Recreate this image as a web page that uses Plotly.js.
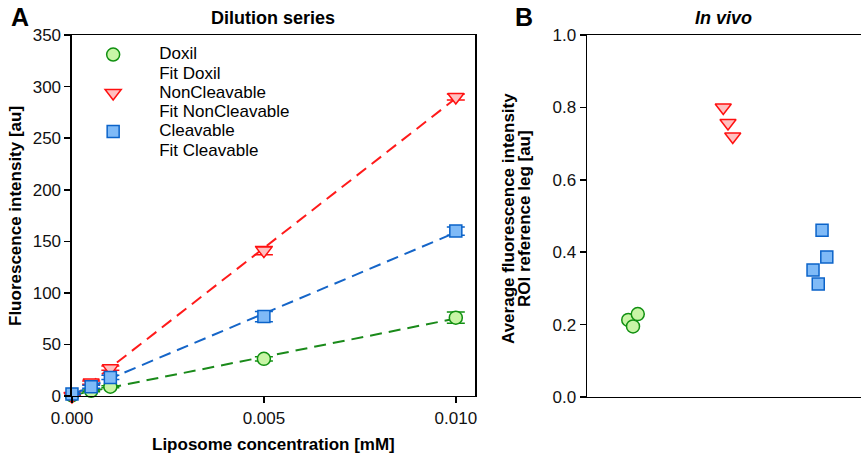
<!DOCTYPE html>
<html>
<head>
<meta charset="utf-8">
<script src="https://cdn.plot.ly/plotly-3.0.1.min.js"></script>
<style>html,body{margin:0;padding:0;background:#fff;}#chart{width:861px;height:456px;}</style>
</head>
<body>
<div id="chart"></div>
<script>
// ---- Panel A: dilution series ----
const concentration = [0, 0.0005, 0.001, 0.005, 0.01];
const doxilValues = [0.5, 5, 9, 36, 76];
const doxilErrors = [0.5, 0.8, 1, 2, 5.5];
const nonCleavableValues = [0, 13, 27, 141, 290];
const nonCleavableErrors = [0.5, 1.5, 2, 4, 3];
const cleavableValues = [2, 9, 18, 77, 160];
const cleavableErrors = [0.5, 1.5, 2, 5, 4];
const xTickValues = [0, 0.005, 0.01];
const yTickValuesA = [0, 50, 100, 150, 200, 250, 300, 350];

// ---- Panel B: in vivo ----
const groupPositions = [1, 2, 3];
const doxilVivoX = [0.95, 1.0, 1.05];
const doxilVivoY = [0.213, 0.195, 0.229];
const nonCleavableVivoX = [1.95, 2.0, 2.05];
const nonCleavableVivoY = [0.80, 0.757, 0.72];
const cleavableVivoX = [2.99, 3.04, 2.895, 2.95];
const cleavableVivoY = [0.461, 0.387, 0.351, 0.312];
const yTickValuesB = [0, 0.2, 0.4, 0.6, 0.8, 1.0];

function linFit(x, y) {
  const n = x.length;
  const mx = x.reduce((a, b) => a + b, 0) / n;
  const my = y.reduce((a, b) => a + b, 0) / n;
  let sxy = 0, sxx = 0;
  for (let i = 0; i < n; i++) { sxy += (x[i] - mx) * (y[i] - my); sxx += (x[i] - mx) ** 2; }
  const slope = sxy / sxx;
  const icpt = my - slope * mx;
  const xs = [Math.min(...x), Math.max(...x)];
  return { x: xs, y: xs.map(v => icpt + slope * v) };
}

const FONT = 'Liberation Sans, Arial, sans-serif';
const green = { edge: '#119011', fill: '#c8f5a6', line: '#1a8a1a' };
const red = { edge: '#ff1010', fill: '#ffc0c0', line: '#ff1a1a' };
const blue = { edge: '#0b63c9', fill: '#7fbaf7', line: '#1565c8' };
const big = s => '<span style="font-size:17px">' + s + '</span>';

function dataTrace(name, y, err, c, symbol, size) {
  return {
    type: 'scatter', mode: 'markers', name: big(name), x: concentration, y: y,
    xaxis: 'x', yaxis: 'y',
    marker: { symbol: symbol, size: size, color: c.fill, line: { color: c.edge, width: 1.5 } },
    error_y: { type: 'data', array: err, visible: true, color: c.edge, thickness: 1.5, width: 9 },
    cliponaxis: false
  };
}
function fitTrace(y, c) {
  const f = linFit(concentration, y);
  return {
    type: 'scatter', mode: 'lines', x: f.x, y: f.y, xaxis: 'x', yaxis: 'y',
    line: { color: c.line, width: 2, dash: '12px,7px' }, showlegend: false, hoverinfo: 'skip'
  };
}
// legend entry for a fit (the reference legend shows these names without a symbol)
function fitLegend(name, y) {
  const f = linFit(concentration, y);
  return { type: 'scatter', mode: 'lines', name: big(name), x: f.x, y: f.y, xaxis: 'x', yaxis: 'y',
    line: { width: 0, color: 'rgba(0,0,0,0)' }, showlegend: true, hoverinfo: 'skip' };
}
function vivoTrace(x, y, c, symbol, size) {
  return {
    type: 'scatter', mode: 'markers', x: x, y: y, xaxis: 'x2', yaxis: 'y2', showlegend: false,
    marker: { symbol: symbol, size: size, color: c.fill, line: { color: c.edge, width: 1.5 } },
    cliponaxis: false
  };
}

const traces = [
  fitTrace(doxilValues, green),
  dataTrace('Doxil', doxilValues, doxilErrors, green, 'circle', 13),
  fitLegend('Fit Doxil', doxilValues),
  fitTrace(nonCleavableValues, red),
  dataTrace('NonCleavable', nonCleavableValues, nonCleavableErrors, red, 'triangle-down', 14),
  fitLegend('Fit NonCleavable', nonCleavableValues),
  fitTrace(cleavableValues, blue),
  dataTrace('Cleavable', cleavableValues, cleavableErrors, blue, 'square', 12),
  fitLegend('Fit Cleavable', cleavableValues),
  vivoTrace(doxilVivoX, doxilVivoY, green, 'circle', 13),
  vivoTrace(nonCleavableVivoX, nonCleavableVivoY, red, 'triangle-down', 14),
  vivoTrace(cleavableVivoX, cleavableVivoY, blue, 'square', 12)
];

const axisCommon = {
  showgrid: false, zeroline: false, showline: true, linecolor: '#000', linewidth: 1.5,
  ticks: 'outside', ticklen: 6, tickwidth: 1.5, tickcolor: '#000',
  tickfont: { family: FONT, size: 17, color: '#111' }
};
const titleFont = { family: FONT, size: 17, color: '#000' };

const layout = {
  width: 861, height: 456,
  margin: { l: 0, r: 0, t: 0, b: 0 },
  paper_bgcolor: '#fff', plot_bgcolor: '#fff',
  font: { family: FONT, size: 14, color: '#000' },
  showlegend: true,
  legend: {
    x: 0.078, y: 0.9125, xanchor: 'left', yanchor: 'top',
    itemwidth: 82, tracegroupgap: 0, bgcolor: 'rgba(0,0,0,0)',
    font: { family: FONT, size: 12.5, color: '#000' }, traceorder: 'normal'
  },
  xaxis: Object.assign({}, axisCommon, {
    domain: [0.0836, 0.5517], range: [0, 0.0105], mirror: true,
    tickvals: xTickValues, tickformat: '.3f', anchor: 'y'
  }),
  yaxis: Object.assign({}, axisCommon, {
    domain: [0.1316, 0.923], range: [0, 350], mirror: true,
    tickvals: yTickValuesA, anchor: 'x'
  }),
  xaxis2: Object.assign({}, axisCommon, {
    domain: [0.6818, 1], range: [0.516, 3.4], mirror: true,
    ticks: '', showticklabels: false, tickvals: groupPositions, anchor: 'y2'
  }),
  yaxis2: Object.assign({}, axisCommon, {
    domain: [0.1294, 0.923], range: [0, 1.0], mirror: false,
    tickvals: yTickValuesB, tickformat: '.1f', anchor: 'x2'
  }),
  annotations: [
    { text: '<b>Dilution series</b>', xref: 'paper', yref: 'paper', x: 273 / 861, y: 1 - 18 / 456, xanchor: 'center', yanchor: 'middle', showarrow: false, font: { family: FONT, size: 18, color: '#000' } },
    { text: '<b><i>In vivo</i></b>', xref: 'paper', yref: 'paper', x: 723 / 861, y: 1 - 18 / 456, xanchor: 'center', yanchor: 'middle', showarrow: false, font: { family: FONT, size: 18, color: '#000' } },
    { text: '<b>A</b>', xref: 'paper', yref: 'paper', x: 20 / 861, y: 1 - 17 / 456, xanchor: 'center', yanchor: 'middle', showarrow: false, font: { family: FONT, size: 25, color: '#000' } },
    { text: '<b>B</b>', xref: 'paper', yref: 'paper', x: 524 / 861, y: 1 - 17 / 456, xanchor: 'center', yanchor: 'middle', showarrow: false, font: { family: FONT, size: 25, color: '#000' } },
    { text: '<b>Liposome concentration [mM]</b>', xref: 'paper', yref: 'paper', x: 273 / 861, y: 1 - 444 / 456, xanchor: 'center', yanchor: 'middle', showarrow: false, font: titleFont },
    { text: '<b>Fluorescence intensity [au]</b>', xref: 'paper', yref: 'paper', x: 16 / 861, y: 1 - 216 / 456, xanchor: 'center', yanchor: 'middle', textangle: -90, showarrow: false, font: titleFont },
    { text: '<b>Average fluorescence intensity</b>', xref: 'paper', yref: 'paper', x: 508 / 861, y: 1 - 219 / 456, xanchor: 'center', yanchor: 'middle', textangle: -90, showarrow: false, font: titleFont },
    { text: '<b>ROI reference leg [au]</b>', xref: 'paper', yref: 'paper', x: 524 / 861, y: 1 - 219 / 456, xanchor: 'center', yanchor: 'middle', textangle: -90, showarrow: false, font: titleFont }
  ]
};

Plotly.newPlot('chart', traces, layout, { staticPlot: true, displayModeBar: false });
</script>
</body>
</html>
